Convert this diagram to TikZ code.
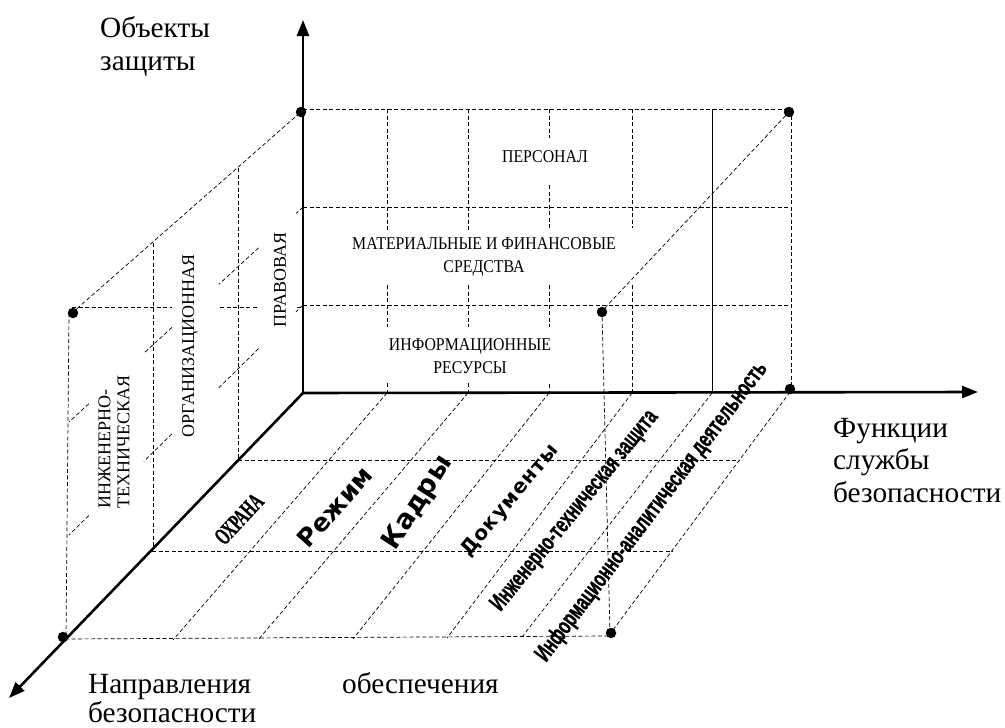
\documentclass[tikz,border=0pt]{standalone}
\usepackage{fontspec}
\setmainfont{Liberation Serif}
\newfontfamily\wallf[FakeStretch=0.88]{Liberation Serif}
\newfontfamily\narrowb[FakeBold=1.2]{Liberation Sans}
\newfontfamily\serifb[FakeBold=1.2]{Liberation Serif}
\newfontfamily\dvsans{DejaVu Sans}
\newfontfamily\dvsansls[LetterSpace=5]{DejaVu Sans}
\usetikzlibrary{arrows.meta,calc}
\begin{document}
\begin{tikzpicture}[x=1pt,y=-1pt,
  dsh/.style={line width=0.7pt, dash pattern=on 4pt off 2.5pt},
  thinsolid/.style={line width=0.6pt},
  axis/.style={line width=2.6pt, -{Triangle[length=16pt,width=12pt]}},
  dot/.style={circle, fill=black, inner sep=0pt, minimum size=10.5pt},
  wall/.style={font=\wallf\fontsize{18}{23}\selectfont, align=center, inner sep=0pt},
  side/.style={font=\fontsize{18}{19}\selectfont, rotate=90, inner sep=0pt},
  lbl/.style={font=\fontsize{29.3}{32}\selectfont, anchor=base west, inner sep=0pt},
  floor/.style={inner sep=0pt}]
\useasboundingbox (0,0) rectangle (1005,728);

% named points
\coordinate (O) at (303,393);
\coordinate (Zt) at (303,20);
\coordinate (Xt) at (978,392);
\coordinate (Yt) at (9,698);

% ---------- back wall ----------
\draw[dsh] (303,109) -- (791,109);
\draw[dsh] (303,207) -- (791,207);
\draw[dsh] (303,305) -- (791,305);
\draw[dsh] (791,109) -- (791,392);
\foreach \x in {387,468}{
  \draw[dsh] (\x,109) -- (\x,230);
  \draw[dsh] (\x,285) -- (\x,327);
  \draw[dsh] (\x,383) -- (\x,392);
}
\draw[dsh] (549,109) -- (549,138);
\draw[dsh] (549,185) -- (549,228);
\draw[dsh] (549,285) -- (549,327);
\draw[dsh] (549,384) -- (549,392);
\draw[dsh] (632,109) -- (632,228);
\draw[dsh] (632,285) -- (632,392);
\draw[thinsolid] (712,109) -- (712,392);

% ---------- left wall ----------
\draw[dsh] (72,313) -- (302,111);
\draw[dsh] (69,313) -- (66,638);
\draw[dsh] (153,243) -- (153,550);
\draw[dsh] (238,168) -- (238,460);
\draw[dsh] (72,307) -- (172,307);
\draw[dsh] (220,307) -- (257,307);
\draw[dsh] (297,307) -- (303,307);
\foreach \a/\b in {0/0.03, 0.19/0.36, 0.56/0.68, 0.915/1}{
  \draw[dsh] ($(303,207)!\a!(69,422)$) -- ($(303,207)!\b!(69,422)$);
  \draw[dsh] ($(303,305)!\a!(69,535)$) -- ($(303,305)!\b!(69,535)$);
}

% ---------- right / front edges ----------
\draw[dsh] (790,111) -- (602,311);
\draw[dsh] (790,392) -- (610,634);
\draw[dsh] (602,311) -- (610,634);
\draw[dsh] (65,639) -- (610,636);

% ---------- floor ----------
\draw[dsh] (387,393) -- (173,640);
\draw[dsh] (468,393) -- (258,640);
\draw[dsh] (549,393) -- (353,639);
\draw[dsh] (632,393) -- (447,638);
\draw[dsh] (712,393) -- (522,637);
\draw[dsh] (238,460) -- (740,460);
\draw[dsh] (152,551) -- (673,551);

% ---------- axes ----------
\draw[axis] (O) -- (Zt);
\draw[axis] (O) -- (Xt);
\draw[axis] (O) -- (Yt);

% ---------- dots ----------
\node[dot] (d1) at (301,112) {};
\node[dot] (d2) at (789,112) {};
\node[dot] (d3) at (790,389) {};
\node[dot] (d4) at (73,313) {};
\node[dot] (d5) at (602,312) {};
\node[dot] (d6) at (611,633) {};
\node[dot] (d7) at (63,637) {};

% ---------- back wall texts ----------
\node[wall] (pers) at (545,157) {ПЕРСОНАЛ};
\node[wall] (mat) at (484,257) {МАТЕРИАЛЬНЫЕ И ФИНАНСОВЫЕ\\СРЕДСТВА};
\node[wall] (inf) at (470,356) {ИНФОРМАЦИОННЫЕ\\РЕСУРСЫ};

% ---------- left wall texts ----------
\node[side] (prav) at (280,280) {ПРАВОВАЯ};
\node[side] (org) at (190,346) {ОРГАНИЗАЦИОННАЯ};
\node[side, align=left] (inzh) at (114,442) {ИНЖЕНЕРНО-\\ТЕХНИЧЕСКАЯ};

% ---------- floor texts ----------
\node[floor, rotate=47] (ohr) at (239,519) {\scalebox{0.6}[1]{\serifb\bfseries\fontsize{24}{24}\selectfont ОХРАНА}};
\node[floor, rotate=48] (rez) at (335,507) {\dvsans\bfseries\fontsize{25}{25}\selectfont Режим};
\node[floor, rotate=57] (kad) at (418,503) {\dvsans\bfseries\fontsize{27}{27}\selectfont Кадры};
\node[floor, rotate=50] (dok) at (510,501) {\dvsansls\bfseries\fontsize{20}{20}\selectfont Документы};
\node[floor, rotate=51] (inzt) at (575,511) {\scalebox{0.66}[1]{\narrowb\bfseries\fontsize{24}{24}\selectfont Инженерно-техническая защита}};
\node[floor, rotate=53] (infa) at (652,512) {\scalebox{0.66}[1]{\narrowb\bfseries\fontsize{24}{24}\selectfont Информационно-аналитическая деятельность}};

% ---------- axis labels ----------
\node[lbl] (z1) at (100,37) {Объекты};
\node[lbl] (z2) at (100,70) {защиты};
\node[lbl] (x1) at (833,437) {Функции};
\node[lbl] (x2) at (833,469) {службы};
\node[lbl] (x3) at (833,502) {безопасности};
\node[lbl] (y1) at (88,693) {Направления};
\node[lbl] (y2) at (88,722) {безопасности};
\node[lbl] (y3) at (342,693) {обеспечения};
\end{tikzpicture}
\end{document}
